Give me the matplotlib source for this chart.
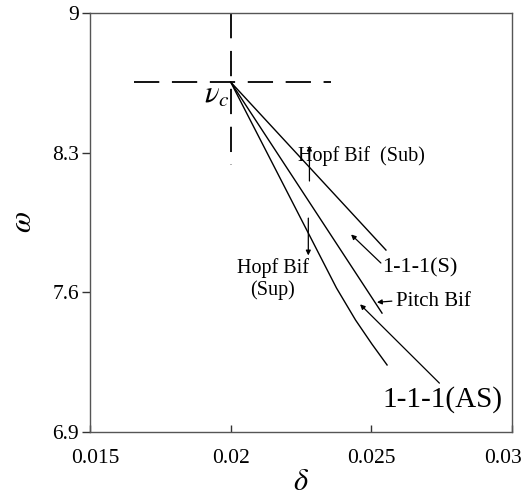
import matplotlib
matplotlib.use("Agg")
import matplotlib.pyplot as plt
from matplotlib.transforms import ScaledTranslation

plt.rcParams["font.family"] = "Liberation Serif"
plt.rcParams["mathtext.fontset"] = "stix"

# ── data ──────────────────────────────────────────────────────────────────
vertex = (0.02, 8.654)

# upper boundary, pitch line, lower (Hopf sup) curve, all starting at v_c
upper_d = [0.02, 0.02552]
upper_w = [8.654, 7.812]
pitch_d = [0.02, 0.02538]
pitch_w = [8.654, 7.496]
lower_d = [0.02, 0.02276, 0.02376, 0.02444, 0.02502, 0.02556]
lower_w = [8.654, 7.897, 7.622, 7.461, 7.341, 7.236]

# dashed cross through v_c
hdash_d = [0.01656, 0.02358]
vdash_w = [9.0, 8.238]

xticks = [0.015, 0.02, 0.025, 0.03]
xticklabels = ["0.015", "0.02", "0.025", "0.03"]
yticks = [6.9, 7.6, 8.3, 9.0]
yticklabels = ["6.9", "7.6", "8.3", "9"]

# arrows: (tail, head)
arrows = [
    ((0.0228, 8.158), (0.0228, 8.335)),     # Hopf Bif (Sub)
    ((0.02276, 7.972), (0.02276, 7.785)),   # Hopf Bif (Sup)
    ((0.02534, 7.747), (0.02428, 7.890)),   # 1-1-1(S)
    ((0.02573, 7.556), (0.02520, 7.550)),   # Pitch Bif
    ((0.02742, 7.145), (0.02460, 7.540)),   # 1-1-1(AS)
]

fig = plt.figure(figsize=(5.27, 4.98), dpi=100)
ax = fig.add_axes([0.1708, 0.1325, 0.8007, 0.8414])

ax.plot(upper_d, upper_w, color="black", lw=1.0)
ax.plot(pitch_d, pitch_w, color="black", lw=1.0)
ax.plot(lower_d, lower_w, color="black", lw=1.0)

ax.plot(hdash_d, [vertex[1]] * 2, color="black", lw=1.3, dashes=(14, 7))
ax.plot([vertex[0]] * 2, vdash_w, color="black", lw=1.3, dashes=(14, 7))

for (t, h) in arrows:
    ax.annotate("", xy=h, xytext=t,
                arrowprops=dict(arrowstyle="-|>", color="black", lw=0.9,
                                mutation_scale=7, shrinkA=0, shrinkB=0))

# ── labels ────────────────────────────────────────────────────────────────
ax.text(0.01952, 8.59, r"$\nu_c$", fontsize=22, ha="center", va="center")
ax.text(0.02466, 8.283, "Hopf Bif  (Sub)", fontsize=14.5, ha="center", va="center")
ax.text(0.0215, 7.667, "Hopf Bif\n(Sup)", fontsize=14.5, ha="center", va="center",
        linespacing=1.1)
ax.text(0.02540, 7.725, "1-1-1(S)", fontsize=16, ha="left", va="center")
ax.text(0.02588, 7.556, "Pitch Bif", fontsize=15, ha="left", va="center")
ax.text(0.02540, 7.065, "1-1-1(AS)", fontsize=21, ha="left", va="center")

ax.set_xlim(0.015, 0.03)
ax.set_ylim(6.9, 9.0)
ax.set_xticks(xticks)
ax.set_xticklabels(xticklabels, fontsize=15.5)
ax.set_yticks(yticks)
ax.set_yticklabels(yticklabels, fontsize=15.5)
ax.tick_params(axis="x", direction="in", length=5, width=1, pad=12, color="#333333")
ax.tick_params(axis="y", direction="out", length=6, width=1, pad=2, color="#333333")

# end labels sit a little inwards, as in the original
labs = ax.get_xticklabels()
labs[0].set_transform(labs[0].get_transform() + ScaledTranslation(0.05, 0, fig.dpi_scale_trans))
labs[-1].set_transform(labs[-1].get_transform() + ScaledTranslation(-0.09, 0, fig.dpi_scale_trans))

for s in ax.spines.values():
    s.set_color("#555555")
    s.set_linewidth(1.0)

ax.set_xlabel(r"$\delta$", fontsize=22, labelpad=0)
ax.set_ylabel(r"$\omega$", fontsize=22, labelpad=10)

fig.savefig("out.png", dpi=100, facecolor="white")
